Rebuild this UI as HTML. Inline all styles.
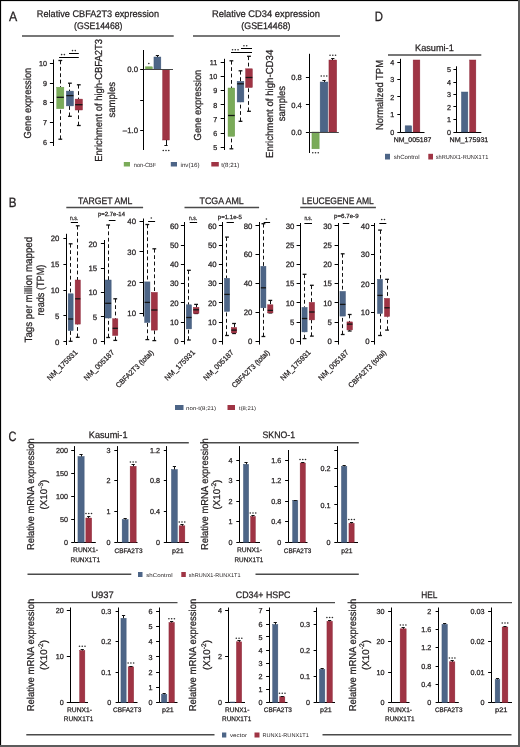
<!DOCTYPE html>
<html><head><meta charset="utf-8"><style>
html,body{margin:0;padding:0;background:#fff;overflow:hidden;}
svg{display:block;will-change:transform;}
text{font-family:"Liberation Sans", sans-serif;text-rendering:geometricPrecision;stroke:#231f20;stroke-width:0.25px;}
</style></head><body>
<svg width="520" height="747" viewBox="0 0 520 747">
<rect width="520" height="747" fill="#fff"/>
<rect x="0" y="0" width="520" height="1.1" fill="#000"/>
<rect x="0" y="0" width="1.1" height="747" fill="#000"/>
<rect x="518" y="0" width="2" height="747" fill="#5c5c5c"/>
<rect x="0" y="745" width="520" height="2" fill="#5c5c5c"/>
<text x="8.9" y="21.1" font-size="13.5" fill="#231f20" textLength="8.2" lengthAdjust="spacingAndGlyphs" style="stroke-width:0.3px">A</text>
<text x="374.8" y="20.8" font-size="13.5" fill="#231f20" textLength="8.2" lengthAdjust="spacingAndGlyphs" style="stroke-width:0.3px">D</text>
<text x="8.7" y="207.2" font-size="13.5" fill="#231f20" textLength="7.7" lengthAdjust="spacingAndGlyphs" style="stroke-width:0.3px">B</text>
<text x="8.5" y="441.3" font-size="13.5" fill="#231f20" textLength="7.9" lengthAdjust="spacingAndGlyphs" style="stroke-width:0.3px">C</text>
<text x="36.8" y="17" font-size="9.6" fill="#231f20" textLength="122.2" lengthAdjust="spacingAndGlyphs">Relative CBFA2T3 expression</text>
<text x="74" y="28.9" font-size="9.6" fill="#231f20" textLength="48.5" lengthAdjust="spacingAndGlyphs">(GSE14468)</text>
<line x1="22" y1="36" x2="173.7" y2="36" stroke="#4a4a4a" stroke-width="1.4"/>
<text x="212" y="17" font-size="9.6" fill="#231f20" textLength="108" lengthAdjust="spacingAndGlyphs">Relative CD34 expression</text>
<text x="241.3" y="28.9" font-size="9.6" fill="#231f20" textLength="49.2" lengthAdjust="spacingAndGlyphs">(GSE14468)</text>
<line x1="193" y1="36" x2="340" y2="36" stroke="#4a4a4a" stroke-width="1.4"/>
<text transform="translate(31.4 103.1) rotate(-90)" font-size="10.2" fill="#231f20" text-anchor="middle" textLength="70.8" lengthAdjust="spacingAndGlyphs">Gene expression</text>
<line x1="53.5" y1="59.5" x2="53.5" y2="146" stroke="#000000" stroke-width="1"/>
<line x1="49.9" y1="63.5" x2="53.5" y2="63.5" stroke="#000000" stroke-width="1"/>
<text x="47" y="65.89" font-size="7.2" fill="#231f20" text-anchor="end">10</text>
<line x1="49.9" y1="83.5" x2="53.5" y2="83.5" stroke="#000000" stroke-width="1"/>
<text x="47" y="85.69" font-size="7.2" fill="#231f20" text-anchor="end">9</text>
<line x1="49.9" y1="102.5" x2="53.5" y2="102.5" stroke="#000000" stroke-width="1"/>
<text x="47" y="105.39" font-size="7.2" fill="#231f20" text-anchor="end">8</text>
<line x1="49.9" y1="122.5" x2="53.5" y2="122.5" stroke="#000000" stroke-width="1"/>
<text x="47" y="125.49" font-size="7.2" fill="#231f20" text-anchor="end">7</text>
<line x1="49.9" y1="142.5" x2="53.5" y2="142.5" stroke="#000000" stroke-width="1"/>
<text x="47" y="145.39" font-size="7.2" fill="#231f20" text-anchor="end">6</text>
<line x1="60.5" y1="60.5" x2="60.5" y2="87.2" stroke="#111" stroke-width="1" stroke-dasharray="3.8,2.6"/>
<line x1="60.5" y1="139.2" x2="60.5" y2="108.7" stroke="#111" stroke-width="1" stroke-dasharray="3.8,2.6"/>
<line x1="58.4" y1="60.5" x2="62.2" y2="60.5" stroke="#111" stroke-width="1.3"/>
<line x1="58.4" y1="139.2" x2="62.2" y2="139.2" stroke="#111" stroke-width="1.3"/>
<rect x="56.75" y="87.2" width="7.1" height="21.5" fill="#7aab59" stroke="#6a9a4a" stroke-width="0.45"/>
<line x1="56.75" y1="97.3" x2="63.85" y2="97.3" stroke="#151515" stroke-width="1.3"/>
<line x1="69.5" y1="83.2" x2="69.5" y2="91.1" stroke="#111" stroke-width="1" stroke-dasharray="3.8,2.6"/>
<line x1="69.5" y1="116.3" x2="69.5" y2="105.9" stroke="#111" stroke-width="1" stroke-dasharray="3.8,2.6"/>
<line x1="68" y1="83.2" x2="71.8" y2="83.2" stroke="#111" stroke-width="1.3"/>
<line x1="68" y1="116.3" x2="71.8" y2="116.3" stroke="#111" stroke-width="1.3"/>
<rect x="66.35" y="91.1" width="7.1" height="14.8" fill="#4d6587" stroke="#3f5676" stroke-width="0.45"/>
<line x1="66.35" y1="95.6" x2="73.45" y2="95.6" stroke="#151515" stroke-width="1.3"/>
<line x1="78.5" y1="84.8" x2="78.5" y2="99.1" stroke="#111" stroke-width="1" stroke-dasharray="3.8,2.6"/>
<line x1="78.5" y1="125.5" x2="78.5" y2="110" stroke="#111" stroke-width="1" stroke-dasharray="3.8,2.6"/>
<line x1="76.9" y1="84.8" x2="80.7" y2="84.8" stroke="#111" stroke-width="1.3"/>
<line x1="76.9" y1="125.5" x2="80.7" y2="125.5" stroke="#111" stroke-width="1.3"/>
<rect x="75.15" y="99.1" width="7.3" height="10.9" fill="#9f3444" stroke="#8c2536" stroke-width="0.45"/>
<line x1="75.15" y1="104.7" x2="82.45" y2="104.7" stroke="#151515" stroke-width="1.3"/>
<line x1="59.1" y1="57.5" x2="78.8" y2="57.5" stroke="#000000" stroke-width="1"/>
<line x1="69" y1="53.5" x2="78.8" y2="53.5" stroke="#000000" stroke-width="1"/>
<circle cx="61.62" cy="54.6" r="0.82" fill="#2e2e2e"/>
<circle cx="64.38" cy="54.6" r="0.82" fill="#2e2e2e"/>
<circle cx="72.53" cy="50.6" r="0.82" fill="#2e2e2e"/>
<circle cx="75.28" cy="50.6" r="0.82" fill="#2e2e2e"/>
<text transform="translate(102.4 100.35) rotate(-90)" font-size="10.2" fill="#231f20" text-anchor="middle" textLength="122.9" lengthAdjust="spacingAndGlyphs">Enrichment of high-CBFA2T3</text>
<text transform="translate(114.9 99.75) rotate(-90)" font-size="10.2" fill="#231f20" text-anchor="middle" textLength="35.5" lengthAdjust="spacingAndGlyphs">samples</text>
<line x1="143.5" y1="50" x2="143.5" y2="150" stroke="#000000" stroke-width="1"/>
<line x1="140.2" y1="69.5" x2="143.8" y2="69.5" stroke="#000000" stroke-width="1"/>
<text x="138" y="72.31" font-size="7.8" fill="#231f20" text-anchor="end">0.0</text>
<line x1="140.2" y1="100.5" x2="143.8" y2="100.5" stroke="#000000" stroke-width="1"/>
<line x1="140.2" y1="130.5" x2="143.8" y2="130.5" stroke="#000000" stroke-width="1"/>
<text x="138" y="133.31" font-size="7.8" fill="#231f20" text-anchor="end">–1.0</text>
<rect x="145.45" y="66.8" width="6.9" height="2.7" fill="#7aab59" stroke="#6a9a4a" stroke-width="0.45"/>
<rect x="153.95" y="57" width="6.9" height="12.5" fill="#4d6587" stroke="#3f5676" stroke-width="0.45"/>
<line x1="157.5" y1="57" x2="157.5" y2="55.2" stroke="#111" stroke-width="1"/>
<line x1="155.8" y1="55.5" x2="159" y2="55.5" stroke="#111" stroke-width="1"/>
<rect x="162.65" y="69.5" width="6.7" height="70.5" fill="#9f3444" stroke="#8c2536" stroke-width="0.45"/>
<line x1="166.5" y1="140" x2="166.5" y2="145.5" stroke="#111" stroke-width="1"/>
<line x1="164.4" y1="145.5" x2="167.6" y2="145.5" stroke="#111" stroke-width="1"/>
<line x1="143.8" y1="69.5" x2="173" y2="69.5" stroke="#444" stroke-width="1"/>
<circle cx="148.8" cy="63.5" r="0.82" fill="#2e2e2e"/>
<circle cx="163.25" cy="150.5" r="0.82" fill="#2e2e2e"/>
<circle cx="166" cy="150.5" r="0.82" fill="#2e2e2e"/>
<circle cx="168.75" cy="150.5" r="0.82" fill="#2e2e2e"/>
<rect x="123.8" y="162" width="6.2" height="4.5" fill="#7aab59"/>
<text x="133.8" y="166.5" font-size="6" fill="#231f20" textLength="22.5" lengthAdjust="spacingAndGlyphs" style="stroke:none">non-CBF</text>
<rect x="170.8" y="162" width="6.2" height="4.5" fill="#4d6587"/>
<text x="180.5" y="166.5" font-size="6" fill="#231f20" textLength="19" lengthAdjust="spacingAndGlyphs" style="stroke:none">inv(16)</text>
<rect x="211.3" y="162" width="7.5" height="4.5" fill="#9f3444"/>
<text x="221.3" y="166.5" font-size="6" fill="#231f20" textLength="18" lengthAdjust="spacingAndGlyphs" style="stroke:none">t(8;21)</text>
<text transform="translate(201.4 105.05) rotate(-90)" font-size="10.2" fill="#231f20" text-anchor="middle" textLength="70.7" lengthAdjust="spacingAndGlyphs">Gene expression</text>
<line x1="224.5" y1="58.8" x2="224.5" y2="150" stroke="#000000" stroke-width="1"/>
<line x1="220.7" y1="62.5" x2="224.3" y2="62.5" stroke="#000000" stroke-width="1"/>
<text x="217.3" y="64.59" font-size="7.2" fill="#231f20" text-anchor="end">11</text>
<line x1="220.7" y1="76.5" x2="224.3" y2="76.5" stroke="#000000" stroke-width="1"/>
<text x="217.3" y="78.89" font-size="7.2" fill="#231f20" text-anchor="end">10</text>
<line x1="220.7" y1="90.5" x2="224.3" y2="90.5" stroke="#000000" stroke-width="1"/>
<text x="217.3" y="93.09" font-size="7.2" fill="#231f20" text-anchor="end">9</text>
<line x1="220.7" y1="104.5" x2="224.3" y2="104.5" stroke="#000000" stroke-width="1"/>
<text x="217.3" y="107.59" font-size="7.2" fill="#231f20" text-anchor="end">8</text>
<line x1="220.7" y1="118.5" x2="224.3" y2="118.5" stroke="#000000" stroke-width="1"/>
<text x="217.3" y="121.59" font-size="7.2" fill="#231f20" text-anchor="end">7</text>
<line x1="220.7" y1="133.5" x2="224.3" y2="133.5" stroke="#000000" stroke-width="1"/>
<text x="217.3" y="135.89" font-size="7.2" fill="#231f20" text-anchor="end">6</text>
<line x1="220.7" y1="147.5" x2="224.3" y2="147.5" stroke="#000000" stroke-width="1"/>
<text x="217.3" y="150.09" font-size="7.2" fill="#231f20" text-anchor="end">5</text>
<line x1="231.5" y1="60.8" x2="231.5" y2="88" stroke="#111" stroke-width="1" stroke-dasharray="3.8,2.6"/>
<line x1="231.5" y1="148.8" x2="231.5" y2="136.3" stroke="#111" stroke-width="1" stroke-dasharray="3.8,2.6"/>
<line x1="229.5" y1="60.8" x2="233.3" y2="60.8" stroke="#111" stroke-width="1.3"/>
<line x1="229.5" y1="148.8" x2="233.3" y2="148.8" stroke="#111" stroke-width="1.3"/>
<rect x="228.05" y="88" width="6.7" height="48.3" fill="#7aab59" stroke="#6a9a4a" stroke-width="0.45"/>
<line x1="228.05" y1="115.5" x2="234.75" y2="115.5" stroke="#151515" stroke-width="1.3"/>
<line x1="240.5" y1="70.8" x2="240.5" y2="81.3" stroke="#111" stroke-width="1" stroke-dasharray="3.8,2.6"/>
<line x1="240.5" y1="121.3" x2="240.5" y2="102" stroke="#111" stroke-width="1" stroke-dasharray="3.8,2.6"/>
<line x1="238.6" y1="70.8" x2="242.4" y2="70.8" stroke="#111" stroke-width="1.3"/>
<line x1="238.6" y1="121.3" x2="242.4" y2="121.3" stroke="#111" stroke-width="1.3"/>
<rect x="237.15" y="81.3" width="6.7" height="20.7" fill="#4d6587" stroke="#3f5676" stroke-width="0.45"/>
<line x1="237.15" y1="83.8" x2="243.85" y2="83.8" stroke="#151515" stroke-width="1.3"/>
<line x1="248.5" y1="56.3" x2="248.5" y2="68.8" stroke="#111" stroke-width="1" stroke-dasharray="3.8,2.6"/>
<line x1="248.5" y1="111.3" x2="248.5" y2="87.5" stroke="#111" stroke-width="1" stroke-dasharray="3.8,2.6"/>
<line x1="247.1" y1="56.3" x2="250.9" y2="56.3" stroke="#111" stroke-width="1.3"/>
<line x1="247.1" y1="111.3" x2="250.9" y2="111.3" stroke="#111" stroke-width="1.3"/>
<rect x="245.65" y="68.8" width="6.7" height="18.7" fill="#9f3444" stroke="#8c2536" stroke-width="0.45"/>
<line x1="245.65" y1="77.5" x2="252.35" y2="77.5" stroke="#151515" stroke-width="1.3"/>
<line x1="231" y1="52.5" x2="252" y2="52.5" stroke="#000000" stroke-width="1"/>
<line x1="241" y1="48.5" x2="252" y2="48.5" stroke="#000000" stroke-width="1"/>
<circle cx="232.55" cy="49.8" r="0.82" fill="#2e2e2e"/>
<circle cx="235.3" cy="49.8" r="0.82" fill="#2e2e2e"/>
<circle cx="238.05" cy="49.8" r="0.82" fill="#2e2e2e"/>
<circle cx="243.93" cy="45.8" r="0.82" fill="#2e2e2e"/>
<circle cx="246.68" cy="45.8" r="0.82" fill="#2e2e2e"/>
<text transform="translate(273.1 103.85) rotate(-90)" font-size="10.2" fill="#231f20" text-anchor="middle" textLength="108.3" lengthAdjust="spacingAndGlyphs">Enrichment of high-CD34</text>
<text transform="translate(284.8 103.6) rotate(-90)" font-size="10.2" fill="#231f20" text-anchor="middle" textLength="35.2" lengthAdjust="spacingAndGlyphs">samples</text>
<line x1="309.5" y1="53.8" x2="309.5" y2="153" stroke="#000000" stroke-width="1"/>
<line x1="305.9" y1="77.5" x2="309.5" y2="77.5" stroke="#000000" stroke-width="1"/>
<text x="301.8" y="80.24" font-size="7.6" fill="#231f20" text-anchor="end">0.8</text>
<line x1="305.9" y1="104.5" x2="309.5" y2="104.5" stroke="#000000" stroke-width="1"/>
<text x="301.8" y="107.74" font-size="7.6" fill="#231f20" text-anchor="end">0.4</text>
<line x1="305.9" y1="132.5" x2="309.5" y2="132.5" stroke="#000000" stroke-width="1"/>
<text x="301.8" y="134.74" font-size="7.6" fill="#231f20" text-anchor="end">0.0</text>
<rect x="311.95" y="132" width="7.2" height="16.8" fill="#7aab59" stroke="#6a9a4a" stroke-width="0.45"/>
<rect x="320.15" y="82" width="7.7" height="50" fill="#4d6587" stroke="#3f5676" stroke-width="0.45"/>
<line x1="324.5" y1="82" x2="324.5" y2="80" stroke="#111" stroke-width="1"/>
<line x1="322.4" y1="80.5" x2="325.6" y2="80.5" stroke="#111" stroke-width="1"/>
<rect x="328.95" y="60" width="7.7" height="72" fill="#9f3444" stroke="#8c2536" stroke-width="0.45"/>
<line x1="332.5" y1="60" x2="332.5" y2="58.3" stroke="#111" stroke-width="1"/>
<line x1="331.2" y1="58.5" x2="334.4" y2="58.5" stroke="#111" stroke-width="1"/>
<line x1="309.5" y1="132.5" x2="338.8" y2="132.5" stroke="#444" stroke-width="1"/>
<circle cx="312.75" cy="152.8" r="0.82" fill="#2e2e2e"/>
<circle cx="315.5" cy="152.8" r="0.82" fill="#2e2e2e"/>
<circle cx="318.25" cy="152.8" r="0.82" fill="#2e2e2e"/>
<circle cx="321.25" cy="76" r="0.82" fill="#2e2e2e"/>
<circle cx="324" cy="76" r="0.82" fill="#2e2e2e"/>
<circle cx="326.75" cy="76" r="0.82" fill="#2e2e2e"/>
<circle cx="330.05" cy="55.3" r="0.82" fill="#2e2e2e"/>
<circle cx="332.8" cy="55.3" r="0.82" fill="#2e2e2e"/>
<circle cx="335.55" cy="55.3" r="0.82" fill="#2e2e2e"/>
<text x="415" y="50.8" font-size="9.4" fill="#231f20" textLength="38.8" lengthAdjust="spacingAndGlyphs">Kasumi-1</text>
<line x1="388" y1="55" x2="481.3" y2="55" stroke="#4a4a4a" stroke-width="1.4"/>
<text transform="translate(382.7 95) rotate(-90)" font-size="10.2" fill="#231f20" text-anchor="middle" textLength="70" lengthAdjust="spacingAndGlyphs">Normalized TPM</text>
<line x1="400.5" y1="58.8" x2="400.5" y2="132" stroke="#000000" stroke-width="1"/>
<line x1="397.3" y1="62.5" x2="400.9" y2="62.5" stroke="#000000" stroke-width="1"/>
<text x="394.2" y="64.59" font-size="7.2" fill="#231f20" text-anchor="end">4</text>
<line x1="397.3" y1="79.5" x2="400.9" y2="79.5" stroke="#000000" stroke-width="1"/>
<text x="394.2" y="82.09" font-size="7.2" fill="#231f20" text-anchor="end">3</text>
<line x1="397.3" y1="96.5" x2="400.9" y2="96.5" stroke="#000000" stroke-width="1"/>
<text x="394.2" y="99.59" font-size="7.2" fill="#231f20" text-anchor="end">2</text>
<line x1="397.3" y1="114.5" x2="400.9" y2="114.5" stroke="#000000" stroke-width="1"/>
<text x="394.2" y="117.09" font-size="7.2" fill="#231f20" text-anchor="end">1</text>
<line x1="397.3" y1="132.5" x2="400.9" y2="132.5" stroke="#000000" stroke-width="1"/>
<text x="394.2" y="134.59" font-size="7.2" fill="#231f20" text-anchor="end">0</text>
<line x1="400.9" y1="132.5" x2="424.5" y2="132.5" stroke="#000000" stroke-width="1"/>
<rect x="405.15" y="125.8" width="6.5" height="6.2" fill="#4d6587" stroke="#3f5676" stroke-width="0.45"/>
<rect x="413.15" y="60" width="6.7" height="72" fill="#9f3444" stroke="#8c2536" stroke-width="0.45"/>
<text x="393.8" y="142.3" font-size="6.8" fill="#231f20" textLength="37.5" lengthAdjust="spacingAndGlyphs">NM_005187</text>
<line x1="456.5" y1="66.3" x2="456.5" y2="132" stroke="#000000" stroke-width="1"/>
<line x1="453.4" y1="69.5" x2="457" y2="69.5" stroke="#000000" stroke-width="1"/>
<text x="451" y="72.09" font-size="7.2" fill="#231f20" text-anchor="end">5</text>
<line x1="453.4" y1="82.5" x2="457" y2="82.5" stroke="#000000" stroke-width="1"/>
<text x="451" y="84.59" font-size="7.2" fill="#231f20" text-anchor="end">4</text>
<line x1="453.4" y1="94.5" x2="457" y2="94.5" stroke="#000000" stroke-width="1"/>
<text x="451" y="97.09" font-size="7.2" fill="#231f20" text-anchor="end">3</text>
<line x1="453.4" y1="106.5" x2="457" y2="106.5" stroke="#000000" stroke-width="1"/>
<text x="451" y="109.59" font-size="7.2" fill="#231f20" text-anchor="end">2</text>
<line x1="453.4" y1="119.5" x2="457" y2="119.5" stroke="#000000" stroke-width="1"/>
<text x="451" y="122.09" font-size="7.2" fill="#231f20" text-anchor="end">1</text>
<line x1="453.4" y1="132.5" x2="457" y2="132.5" stroke="#000000" stroke-width="1"/>
<text x="451" y="134.59" font-size="7.2" fill="#231f20" text-anchor="end">0</text>
<line x1="457" y1="132.5" x2="481.3" y2="132.5" stroke="#000000" stroke-width="1"/>
<rect x="461.45" y="92" width="6.4" height="40" fill="#4d6587" stroke="#3f5676" stroke-width="0.45"/>
<rect x="469.65" y="60" width="6.2" height="72" fill="#9f3444" stroke="#8c2536" stroke-width="0.45"/>
<text x="449.5" y="142.3" font-size="6.8" fill="#231f20" textLength="38.8" lengthAdjust="spacingAndGlyphs">NM_175931</text>
<rect x="385" y="153.8" width="5" height="5.7" fill="#4d6587"/>
<text x="393.8" y="158.8" font-size="6" fill="#231f20" textLength="25.7" lengthAdjust="spacingAndGlyphs" style="stroke:none">shControl</text>
<rect x="428.3" y="153.8" width="4.7" height="5.7" fill="#9f3444"/>
<text x="435.8" y="158.8" font-size="6" fill="#231f20" textLength="52.5" lengthAdjust="spacingAndGlyphs" style="stroke:none">shRUNX1-RUNX1T1</text>
<text x="78" y="203.8" font-size="9.4" fill="#231f20" textLength="54.3" lengthAdjust="spacingAndGlyphs">TARGET AML</text>
<line x1="66.3" y1="207.5" x2="143.1" y2="207.5" stroke="#4a4a4a" stroke-width="1.4"/>
<text x="199.5" y="203.8" font-size="9.4" fill="#231f20" textLength="44.3" lengthAdjust="spacingAndGlyphs">TCGA AML</text>
<line x1="184.5" y1="207.5" x2="259.1" y2="207.5" stroke="#4a4a4a" stroke-width="1.4"/>
<text x="302" y="203.8" font-size="9.4" fill="#231f20" textLength="71.8" lengthAdjust="spacingAndGlyphs">LEUCEGENE AML</text>
<line x1="300.2" y1="207.5" x2="375.9" y2="207.5" stroke="#4a4a4a" stroke-width="1.4"/>
<text transform="translate(31.9 289.65) rotate(-90)" font-size="10.5" fill="#231f20" text-anchor="middle" textLength="105.7" lengthAdjust="spacingAndGlyphs">Tags per million mapped</text>
<text transform="translate(44.3 290.1) rotate(-90)" font-size="10.5" fill="#231f20" text-anchor="middle" textLength="50.8" lengthAdjust="spacingAndGlyphs">reads (TPM)</text>
<line x1="66.5" y1="233.8" x2="66.5" y2="345" stroke="#000000" stroke-width="1"/>
<line x1="63.4" y1="238.5" x2="67" y2="238.5" stroke="#000000" stroke-width="1"/>
<text x="59.4" y="240.81" font-size="7.8" fill="#231f20" text-anchor="end">20</text>
<line x1="63.4" y1="264.5" x2="67" y2="264.5" stroke="#000000" stroke-width="1"/>
<text x="59.4" y="266.81" font-size="7.8" fill="#231f20" text-anchor="end">15</text>
<line x1="63.4" y1="290.5" x2="67" y2="290.5" stroke="#000000" stroke-width="1"/>
<text x="59.4" y="292.81" font-size="7.8" fill="#231f20" text-anchor="end">10</text>
<line x1="63.4" y1="315.5" x2="67" y2="315.5" stroke="#000000" stroke-width="1"/>
<text x="59.4" y="318.61" font-size="7.8" fill="#231f20" text-anchor="end">5</text>
<line x1="63.4" y1="341.5" x2="67" y2="341.5" stroke="#000000" stroke-width="1"/>
<text x="59.4" y="344.61" font-size="7.8" fill="#231f20" text-anchor="end">0</text>
<line x1="70.5" y1="243.8" x2="70.5" y2="293.8" stroke="#111" stroke-width="1" stroke-dasharray="3.8,2.6"/>
<line x1="70.5" y1="341.3" x2="70.5" y2="330.6" stroke="#111" stroke-width="1" stroke-dasharray="3.8,2.6"/>
<line x1="68.75" y1="243.8" x2="72.55" y2="243.8" stroke="#111" stroke-width="1.3"/>
<line x1="68.75" y1="341.3" x2="72.55" y2="341.3" stroke="#111" stroke-width="1.3"/>
<rect x="68.15" y="293.8" width="5" height="36.8" fill="#4d6587" stroke="#3f5676" stroke-width="0.45"/>
<line x1="68.15" y1="319" x2="73.15" y2="319" stroke="#151515" stroke-width="1.3"/>
<line x1="77.5" y1="225.8" x2="77.5" y2="280" stroke="#111" stroke-width="1" stroke-dasharray="3.8,2.6"/>
<line x1="77.5" y1="337.3" x2="77.5" y2="324.1" stroke="#111" stroke-width="1" stroke-dasharray="3.8,2.6"/>
<line x1="75.85" y1="225.8" x2="79.65" y2="225.8" stroke="#111" stroke-width="1.3"/>
<line x1="75.85" y1="337.3" x2="79.65" y2="337.3" stroke="#111" stroke-width="1.3"/>
<rect x="75.15" y="280" width="5.2" height="44.1" fill="#9f3444" stroke="#8c2536" stroke-width="0.45"/>
<line x1="75.15" y1="298.8" x2="80.35" y2="298.8" stroke="#151515" stroke-width="1.3"/>
<line x1="70.8" y1="222.5" x2="78" y2="222.5" stroke="#000000" stroke-width="1"/>
<text x="70" y="220.2" font-size="6" fill="#231f20" textLength="8" lengthAdjust="spacingAndGlyphs">n.s.</text>
<text transform="translate(78 353) rotate(-45)" font-size="7.4" fill="#231f20" text-anchor="end" textLength="39.5" lengthAdjust="spacingAndGlyphs">NM_175931</text>
<line x1="104.5" y1="240" x2="104.5" y2="344.5" stroke="#000000" stroke-width="1"/>
<line x1="100.9" y1="243.5" x2="104.5" y2="243.5" stroke="#000000" stroke-width="1"/>
<text x="97.2" y="246.61" font-size="7.8" fill="#231f20" text-anchor="end">20</text>
<line x1="100.9" y1="268.5" x2="104.5" y2="268.5" stroke="#000000" stroke-width="1"/>
<text x="97.2" y="270.81" font-size="7.8" fill="#231f20" text-anchor="end">15</text>
<line x1="100.9" y1="292.5" x2="104.5" y2="292.5" stroke="#000000" stroke-width="1"/>
<text x="97.2" y="295.31" font-size="7.8" fill="#231f20" text-anchor="end">10</text>
<line x1="100.9" y1="316.5" x2="104.5" y2="316.5" stroke="#000000" stroke-width="1"/>
<text x="97.2" y="319.81" font-size="7.8" fill="#231f20" text-anchor="end">5</text>
<line x1="100.9" y1="341.5" x2="104.5" y2="341.5" stroke="#000000" stroke-width="1"/>
<text x="97.2" y="344.11" font-size="7.8" fill="#231f20" text-anchor="end">0</text>
<line x1="108.5" y1="225" x2="108.5" y2="280" stroke="#111" stroke-width="1" stroke-dasharray="3.8,2.6"/>
<line x1="108.5" y1="337.5" x2="108.5" y2="318" stroke="#111" stroke-width="1" stroke-dasharray="3.8,2.6"/>
<line x1="106.25" y1="225" x2="110.05" y2="225" stroke="#111" stroke-width="1.3"/>
<line x1="106.25" y1="337.5" x2="110.05" y2="337.5" stroke="#111" stroke-width="1.3"/>
<rect x="105.15" y="280" width="6" height="38" fill="#4d6587" stroke="#3f5676" stroke-width="0.45"/>
<line x1="105.15" y1="303.3" x2="111.15" y2="303.3" stroke="#151515" stroke-width="1.3"/>
<line x1="115.5" y1="298.8" x2="115.5" y2="318.8" stroke="#111" stroke-width="1" stroke-dasharray="3.8,2.6"/>
<line x1="115.5" y1="340.4" x2="115.5" y2="335.5" stroke="#111" stroke-width="1" stroke-dasharray="3.8,2.6"/>
<line x1="113.35" y1="298.8" x2="117.15" y2="298.8" stroke="#111" stroke-width="1.3"/>
<line x1="113.35" y1="340.4" x2="117.15" y2="340.4" stroke="#111" stroke-width="1.3"/>
<rect x="112.65" y="318.8" width="5.2" height="16.7" fill="#9f3444" stroke="#8c2536" stroke-width="0.45"/>
<line x1="112.65" y1="328.3" x2="117.85" y2="328.3" stroke="#151515" stroke-width="1.3"/>
<line x1="108.8" y1="220.5" x2="115.5" y2="220.5" stroke="#000000" stroke-width="1"/>
<text x="98" y="216" font-size="6" fill="#231f20" textLength="27" lengthAdjust="spacingAndGlyphs">p=2.7e-14</text>
<text transform="translate(114.8 353) rotate(-45)" font-size="7.4" fill="#231f20" text-anchor="end" textLength="39.5" lengthAdjust="spacingAndGlyphs">NM_005187</text>
<line x1="143.5" y1="218.5" x2="143.5" y2="316.5" stroke="#000000" stroke-width="1"/>
<line x1="139.5" y1="221.5" x2="143.1" y2="221.5" stroke="#000000" stroke-width="1"/>
<text x="136" y="223.91" font-size="7.8" fill="#231f20" text-anchor="end">40</text>
<line x1="139.5" y1="251.5" x2="143.1" y2="251.5" stroke="#000000" stroke-width="1"/>
<text x="136" y="254.61" font-size="7.8" fill="#231f20" text-anchor="end">30</text>
<line x1="139.5" y1="282.5" x2="143.1" y2="282.5" stroke="#000000" stroke-width="1"/>
<text x="136" y="285.51" font-size="7.8" fill="#231f20" text-anchor="end">20</text>
<line x1="139.5" y1="313.5" x2="143.1" y2="313.5" stroke="#000000" stroke-width="1"/>
<text x="136" y="316.31" font-size="7.8" fill="#231f20" text-anchor="end">10</text>
<line x1="147.5" y1="224.5" x2="147.5" y2="281.9" stroke="#111" stroke-width="1" stroke-dasharray="3.8,2.6"/>
<line x1="147.5" y1="339.6" x2="147.5" y2="322.5" stroke="#111" stroke-width="1" stroke-dasharray="3.8,2.6"/>
<line x1="145.4" y1="224.5" x2="149.2" y2="224.5" stroke="#111" stroke-width="1.3"/>
<line x1="145.4" y1="339.6" x2="149.2" y2="339.6" stroke="#111" stroke-width="1.3"/>
<rect x="144.65" y="281.9" width="5.3" height="40.6" fill="#4d6587" stroke="#3f5676" stroke-width="0.45"/>
<line x1="144.65" y1="302.4" x2="149.95" y2="302.4" stroke="#151515" stroke-width="1.3"/>
<line x1="154.5" y1="248.8" x2="154.5" y2="292.4" stroke="#111" stroke-width="1" stroke-dasharray="3.8,2.6"/>
<line x1="154.5" y1="340.6" x2="154.5" y2="330.1" stroke="#111" stroke-width="1" stroke-dasharray="3.8,2.6"/>
<line x1="152.4" y1="248.8" x2="156.2" y2="248.8" stroke="#111" stroke-width="1.3"/>
<line x1="152.4" y1="340.6" x2="156.2" y2="340.6" stroke="#111" stroke-width="1.3"/>
<rect x="151.25" y="292.4" width="6.1" height="37.7" fill="#9f3444" stroke="#8c2536" stroke-width="0.45"/>
<line x1="151.25" y1="310" x2="157.35" y2="310" stroke="#151515" stroke-width="1.3"/>
<line x1="148.1" y1="221.5" x2="155.1" y2="221.5" stroke="#000000" stroke-width="1"/>
<circle cx="151.3" cy="218" r="0.82" fill="#2e2e2e"/>
<text transform="translate(154.1 353) rotate(-45)" font-size="7.4" fill="#231f20" text-anchor="end" textLength="50" lengthAdjust="spacingAndGlyphs">CBFA2T3 (total)</text>
<line x1="184.5" y1="222" x2="184.5" y2="344.4" stroke="#000000" stroke-width="1"/>
<line x1="180.9" y1="225.5" x2="184.5" y2="225.5" stroke="#000000" stroke-width="1"/>
<text x="178.6" y="228.51" font-size="7.8" fill="#231f20" text-anchor="end">60</text>
<line x1="180.9" y1="245.5" x2="184.5" y2="245.5" stroke="#000000" stroke-width="1"/>
<text x="178.6" y="248.01" font-size="7.8" fill="#231f20" text-anchor="end">50</text>
<line x1="180.9" y1="264.5" x2="184.5" y2="264.5" stroke="#000000" stroke-width="1"/>
<text x="178.6" y="267.11" font-size="7.8" fill="#231f20" text-anchor="end">40</text>
<line x1="180.9" y1="283.5" x2="184.5" y2="283.5" stroke="#000000" stroke-width="1"/>
<text x="178.6" y="286.11" font-size="7.8" fill="#231f20" text-anchor="end">30</text>
<line x1="180.9" y1="302.5" x2="184.5" y2="302.5" stroke="#000000" stroke-width="1"/>
<text x="178.6" y="305.61" font-size="7.8" fill="#231f20" text-anchor="end">20</text>
<line x1="180.9" y1="322.5" x2="184.5" y2="322.5" stroke="#000000" stroke-width="1"/>
<text x="178.6" y="324.91" font-size="7.8" fill="#231f20" text-anchor="end">10</text>
<line x1="180.9" y1="341.5" x2="184.5" y2="341.5" stroke="#000000" stroke-width="1"/>
<text x="178.6" y="344.41" font-size="7.8" fill="#231f20" text-anchor="end">0</text>
<line x1="188.5" y1="270.3" x2="188.5" y2="304.8" stroke="#111" stroke-width="1" stroke-dasharray="3.8,2.6"/>
<line x1="188.5" y1="340" x2="188.5" y2="328.9" stroke="#111" stroke-width="1" stroke-dasharray="3.8,2.6"/>
<line x1="187" y1="270.3" x2="190.8" y2="270.3" stroke="#111" stroke-width="1.3"/>
<line x1="187" y1="340" x2="190.8" y2="340" stroke="#111" stroke-width="1.3"/>
<rect x="186.25" y="304.8" width="5.3" height="24.1" fill="#4d6587" stroke="#3f5676" stroke-width="0.45"/>
<line x1="186.25" y1="317.5" x2="191.55" y2="317.5" stroke="#151515" stroke-width="1.3"/>
<line x1="196.5" y1="304.4" x2="196.5" y2="307.4" stroke="#111" stroke-width="1" stroke-dasharray="3.8,2.6"/>
<line x1="196.5" y1="313.5" x2="196.5" y2="313.5" stroke="#111" stroke-width="1" stroke-dasharray="3.8,2.6"/>
<line x1="194.2" y1="304.4" x2="198" y2="304.4" stroke="#111" stroke-width="1.3"/>
<line x1="194.2" y1="313.5" x2="198" y2="313.5" stroke="#111" stroke-width="1.3"/>
<rect x="193.25" y="307.4" width="5.7" height="6.1" fill="#9f3444" stroke="#8c2536" stroke-width="0.45"/>
<line x1="193.25" y1="309.8" x2="198.95" y2="309.8" stroke="#151515" stroke-width="1.3"/>
<line x1="189.7" y1="222.5" x2="197.1" y2="222.5" stroke="#000000" stroke-width="1"/>
<text x="189.1" y="219.8" font-size="6" fill="#231f20" textLength="8" lengthAdjust="spacingAndGlyphs">n.s.</text>
<text transform="translate(195.5 353) rotate(-45)" font-size="7.4" fill="#231f20" text-anchor="end" textLength="39.5" lengthAdjust="spacingAndGlyphs">NM_175931</text>
<line x1="222.5" y1="222" x2="222.5" y2="344.6" stroke="#000000" stroke-width="1"/>
<line x1="218.9" y1="225.5" x2="222.5" y2="225.5" stroke="#000000" stroke-width="1"/>
<text x="216.6" y="228.51" font-size="7.8" fill="#231f20" text-anchor="end">60</text>
<line x1="218.9" y1="245.5" x2="222.5" y2="245.5" stroke="#000000" stroke-width="1"/>
<text x="216.6" y="248.01" font-size="7.8" fill="#231f20" text-anchor="end">50</text>
<line x1="218.9" y1="264.5" x2="222.5" y2="264.5" stroke="#000000" stroke-width="1"/>
<text x="216.6" y="267.11" font-size="7.8" fill="#231f20" text-anchor="end">40</text>
<line x1="218.9" y1="283.5" x2="222.5" y2="283.5" stroke="#000000" stroke-width="1"/>
<text x="216.6" y="286.11" font-size="7.8" fill="#231f20" text-anchor="end">30</text>
<line x1="218.9" y1="302.5" x2="222.5" y2="302.5" stroke="#000000" stroke-width="1"/>
<text x="216.6" y="305.61" font-size="7.8" fill="#231f20" text-anchor="end">20</text>
<line x1="218.9" y1="322.5" x2="222.5" y2="322.5" stroke="#000000" stroke-width="1"/>
<text x="216.6" y="324.91" font-size="7.8" fill="#231f20" text-anchor="end">10</text>
<line x1="218.9" y1="341.5" x2="222.5" y2="341.5" stroke="#000000" stroke-width="1"/>
<text x="216.6" y="344.41" font-size="7.8" fill="#231f20" text-anchor="end">0</text>
<line x1="226.5" y1="237.1" x2="226.5" y2="278.3" stroke="#111" stroke-width="1" stroke-dasharray="3.8,2.6"/>
<line x1="226.5" y1="335.5" x2="226.5" y2="311.4" stroke="#111" stroke-width="1" stroke-dasharray="3.8,2.6"/>
<line x1="225.1" y1="237.1" x2="228.9" y2="237.1" stroke="#111" stroke-width="1.3"/>
<line x1="225.1" y1="335.5" x2="228.9" y2="335.5" stroke="#111" stroke-width="1.3"/>
<rect x="224.35" y="278.3" width="5.3" height="33.1" fill="#4d6587" stroke="#3f5676" stroke-width="0.45"/>
<line x1="224.35" y1="294.4" x2="229.65" y2="294.4" stroke="#151515" stroke-width="1.3"/>
<line x1="234.5" y1="323.5" x2="234.5" y2="327.5" stroke="#111" stroke-width="1" stroke-dasharray="3.8,2.6"/>
<line x1="234.5" y1="333.5" x2="234.5" y2="332.9" stroke="#111" stroke-width="1" stroke-dasharray="3.8,2.6"/>
<line x1="232.15" y1="323.5" x2="235.95" y2="323.5" stroke="#111" stroke-width="1.3"/>
<line x1="232.15" y1="333.5" x2="235.95" y2="333.5" stroke="#111" stroke-width="1.3"/>
<rect x="231.35" y="327.5" width="5.4" height="5.4" fill="#9f3444" stroke="#8c2536" stroke-width="0.45"/>
<line x1="231.35" y1="330.1" x2="236.75" y2="330.1" stroke="#151515" stroke-width="1.3"/>
<line x1="226.6" y1="222.5" x2="233.9" y2="222.5" stroke="#000000" stroke-width="1"/>
<text x="217.8" y="218.6" font-size="6" fill="#231f20" textLength="24.2" lengthAdjust="spacingAndGlyphs">p=1.1e-5</text>
<text transform="translate(234.2 353) rotate(-45)" font-size="7.4" fill="#231f20" text-anchor="end" textLength="39.5" lengthAdjust="spacingAndGlyphs">NM_005187</text>
<line x1="259.5" y1="222" x2="259.5" y2="344.6" stroke="#000000" stroke-width="1"/>
<line x1="255.5" y1="225.5" x2="259.1" y2="225.5" stroke="#000000" stroke-width="1"/>
<text x="252.4" y="228.51" font-size="7.8" fill="#231f20" text-anchor="end">80</text>
<line x1="255.5" y1="254.5" x2="259.1" y2="254.5" stroke="#000000" stroke-width="1"/>
<text x="252.4" y="257.41" font-size="7.8" fill="#231f20" text-anchor="end">60</text>
<line x1="255.5" y1="283.5" x2="259.1" y2="283.5" stroke="#000000" stroke-width="1"/>
<text x="252.4" y="286.11" font-size="7.8" fill="#231f20" text-anchor="end">40</text>
<line x1="255.5" y1="312.5" x2="259.1" y2="312.5" stroke="#000000" stroke-width="1"/>
<text x="252.4" y="315.21" font-size="7.8" fill="#231f20" text-anchor="end">20</text>
<line x1="255.5" y1="341.5" x2="259.1" y2="341.5" stroke="#000000" stroke-width="1"/>
<text x="252.4" y="344.41" font-size="7.8" fill="#231f20" text-anchor="end">0</text>
<line x1="263.5" y1="223.7" x2="263.5" y2="266.3" stroke="#111" stroke-width="1" stroke-dasharray="3.8,2.6"/>
<line x1="263.5" y1="336.5" x2="263.5" y2="307.8" stroke="#111" stroke-width="1" stroke-dasharray="3.8,2.6"/>
<line x1="261.5" y1="223.7" x2="265.3" y2="223.7" stroke="#111" stroke-width="1.3"/>
<line x1="261.5" y1="336.5" x2="265.3" y2="336.5" stroke="#111" stroke-width="1.3"/>
<rect x="260.85" y="266.3" width="5.1" height="41.5" fill="#4d6587" stroke="#3f5676" stroke-width="0.45"/>
<line x1="260.85" y1="287.8" x2="265.95" y2="287.8" stroke="#151515" stroke-width="1.3"/>
<line x1="270.5" y1="300.4" x2="270.5" y2="304.8" stroke="#111" stroke-width="1" stroke-dasharray="3.8,2.6"/>
<line x1="270.5" y1="312.9" x2="270.5" y2="312.9" stroke="#111" stroke-width="1" stroke-dasharray="3.8,2.6"/>
<line x1="268.4" y1="300.4" x2="272.2" y2="300.4" stroke="#111" stroke-width="1.3"/>
<line x1="268.4" y1="312.9" x2="272.2" y2="312.9" stroke="#111" stroke-width="1.3"/>
<rect x="267.65" y="304.8" width="5.3" height="8.1" fill="#9f3444" stroke="#8c2536" stroke-width="0.45"/>
<line x1="267.65" y1="310.4" x2="272.95" y2="310.4" stroke="#151515" stroke-width="1.3"/>
<line x1="263.7" y1="222.5" x2="270.1" y2="222.5" stroke="#000000" stroke-width="1"/>
<circle cx="266.4" cy="219" r="0.82" fill="#2e2e2e"/>
<text transform="translate(270.1 353) rotate(-45)" font-size="7.4" fill="#231f20" text-anchor="end" textLength="50" lengthAdjust="spacingAndGlyphs">CBFA2T3 (total)</text>
<line x1="300.5" y1="223" x2="300.5" y2="344.6" stroke="#000000" stroke-width="1"/>
<line x1="296.6" y1="225.5" x2="300.2" y2="225.5" stroke="#000000" stroke-width="1"/>
<text x="294.4" y="228.51" font-size="7.8" fill="#231f20" text-anchor="end">30</text>
<line x1="296.6" y1="245.5" x2="300.2" y2="245.5" stroke="#000000" stroke-width="1"/>
<text x="294.4" y="248.01" font-size="7.8" fill="#231f20" text-anchor="end">25</text>
<line x1="296.6" y1="264.5" x2="300.2" y2="264.5" stroke="#000000" stroke-width="1"/>
<text x="294.4" y="267.11" font-size="7.8" fill="#231f20" text-anchor="end">20</text>
<line x1="296.6" y1="283.5" x2="300.2" y2="283.5" stroke="#000000" stroke-width="1"/>
<text x="294.4" y="286.11" font-size="7.8" fill="#231f20" text-anchor="end">15</text>
<line x1="296.6" y1="302.5" x2="300.2" y2="302.5" stroke="#000000" stroke-width="1"/>
<text x="294.4" y="305.61" font-size="7.8" fill="#231f20" text-anchor="end">10</text>
<line x1="296.6" y1="322.5" x2="300.2" y2="322.5" stroke="#000000" stroke-width="1"/>
<text x="294.4" y="324.91" font-size="7.8" fill="#231f20" text-anchor="end">5</text>
<line x1="296.6" y1="341.5" x2="300.2" y2="341.5" stroke="#000000" stroke-width="1"/>
<text x="294.4" y="344.41" font-size="7.8" fill="#231f20" text-anchor="end">0</text>
<line x1="304.5" y1="274.3" x2="304.5" y2="307.4" stroke="#111" stroke-width="1" stroke-dasharray="3.8,2.6"/>
<line x1="304.5" y1="338.6" x2="304.5" y2="331.9" stroke="#111" stroke-width="1" stroke-dasharray="3.8,2.6"/>
<line x1="302.65" y1="274.3" x2="306.45" y2="274.3" stroke="#111" stroke-width="1.3"/>
<line x1="302.65" y1="338.6" x2="306.45" y2="338.6" stroke="#111" stroke-width="1.3"/>
<rect x="301.95" y="307.4" width="5.2" height="24.5" fill="#4d6587" stroke="#3f5676" stroke-width="0.45"/>
<line x1="301.95" y1="318.5" x2="307.15" y2="318.5" stroke="#151515" stroke-width="1.3"/>
<line x1="311.5" y1="285.3" x2="311.5" y2="302.4" stroke="#111" stroke-width="1" stroke-dasharray="3.8,2.6"/>
<line x1="311.5" y1="336.1" x2="311.5" y2="319.9" stroke="#111" stroke-width="1" stroke-dasharray="3.8,2.6"/>
<line x1="309.95" y1="285.3" x2="313.75" y2="285.3" stroke="#111" stroke-width="1.3"/>
<line x1="309.95" y1="336.1" x2="313.75" y2="336.1" stroke="#111" stroke-width="1.3"/>
<rect x="309.15" y="302.4" width="5.4" height="17.5" fill="#9f3444" stroke="#8c2536" stroke-width="0.45"/>
<line x1="309.15" y1="312" x2="314.55" y2="312" stroke="#151515" stroke-width="1.3"/>
<line x1="304.4" y1="223.5" x2="312" y2="223.5" stroke="#000000" stroke-width="1"/>
<text x="304.4" y="220.2" font-size="6" fill="#231f20" textLength="7.6" lengthAdjust="spacingAndGlyphs">n.s.</text>
<text transform="translate(311.2 353) rotate(-45)" font-size="7.4" fill="#231f20" text-anchor="end" textLength="39.5" lengthAdjust="spacingAndGlyphs">NM_175931</text>
<line x1="338.5" y1="223" x2="338.5" y2="344.6" stroke="#000000" stroke-width="1"/>
<line x1="334.6" y1="225.5" x2="338.2" y2="225.5" stroke="#000000" stroke-width="1"/>
<text x="331.9" y="228.51" font-size="7.8" fill="#231f20" text-anchor="end">30</text>
<line x1="334.6" y1="245.5" x2="338.2" y2="245.5" stroke="#000000" stroke-width="1"/>
<text x="331.9" y="248.01" font-size="7.8" fill="#231f20" text-anchor="end">25</text>
<line x1="334.6" y1="264.5" x2="338.2" y2="264.5" stroke="#000000" stroke-width="1"/>
<text x="331.9" y="267.11" font-size="7.8" fill="#231f20" text-anchor="end">20</text>
<line x1="334.6" y1="283.5" x2="338.2" y2="283.5" stroke="#000000" stroke-width="1"/>
<text x="331.9" y="286.11" font-size="7.8" fill="#231f20" text-anchor="end">15</text>
<line x1="334.6" y1="302.5" x2="338.2" y2="302.5" stroke="#000000" stroke-width="1"/>
<text x="331.9" y="305.61" font-size="7.8" fill="#231f20" text-anchor="end">10</text>
<line x1="334.6" y1="322.5" x2="338.2" y2="322.5" stroke="#000000" stroke-width="1"/>
<text x="331.9" y="324.91" font-size="7.8" fill="#231f20" text-anchor="end">5</text>
<line x1="334.6" y1="341.5" x2="338.2" y2="341.5" stroke="#000000" stroke-width="1"/>
<text x="331.9" y="344.41" font-size="7.8" fill="#231f20" text-anchor="end">0</text>
<line x1="342.5" y1="253.8" x2="342.5" y2="291.4" stroke="#111" stroke-width="1" stroke-dasharray="3.8,2.6"/>
<line x1="342.5" y1="334.5" x2="342.5" y2="316.1" stroke="#111" stroke-width="1" stroke-dasharray="3.8,2.6"/>
<line x1="340.8" y1="253.8" x2="344.6" y2="253.8" stroke="#111" stroke-width="1.3"/>
<line x1="340.8" y1="334.5" x2="344.6" y2="334.5" stroke="#111" stroke-width="1.3"/>
<rect x="339.95" y="291.4" width="5.5" height="24.7" fill="#4d6587" stroke="#3f5676" stroke-width="0.45"/>
<line x1="339.95" y1="304.4" x2="345.45" y2="304.4" stroke="#151515" stroke-width="1.3"/>
<line x1="349.5" y1="314.5" x2="349.5" y2="321.9" stroke="#111" stroke-width="1" stroke-dasharray="3.8,2.6"/>
<line x1="349.5" y1="331" x2="349.5" y2="329.9" stroke="#111" stroke-width="1" stroke-dasharray="3.8,2.6"/>
<line x1="347.8" y1="314.5" x2="351.6" y2="314.5" stroke="#111" stroke-width="1.3"/>
<line x1="347.8" y1="331" x2="351.6" y2="331" stroke="#111" stroke-width="1.3"/>
<rect x="346.95" y="321.9" width="5.5" height="8" fill="#9f3444" stroke="#8c2536" stroke-width="0.45"/>
<line x1="346.95" y1="324.1" x2="352.45" y2="324.1" stroke="#151515" stroke-width="1.3"/>
<line x1="342.8" y1="223.5" x2="349.2" y2="223.5" stroke="#000000" stroke-width="1"/>
<text x="334.1" y="217.6" font-size="6" fill="#231f20" textLength="24.5" lengthAdjust="spacingAndGlyphs">p=6.7e-9</text>
<text transform="translate(349.2 353) rotate(-45)" font-size="7.4" fill="#231f20" text-anchor="end" textLength="39.5" lengthAdjust="spacingAndGlyphs">NM_005187</text>
<line x1="374.5" y1="223" x2="374.5" y2="344.6" stroke="#000000" stroke-width="1"/>
<line x1="371" y1="225.5" x2="374.6" y2="225.5" stroke="#000000" stroke-width="1"/>
<text x="369.5" y="228.51" font-size="7.8" fill="#231f20" text-anchor="end">40</text>
<line x1="371" y1="254.5" x2="374.6" y2="254.5" stroke="#000000" stroke-width="1"/>
<text x="369.5" y="257.41" font-size="7.8" fill="#231f20" text-anchor="end">30</text>
<line x1="371" y1="283.5" x2="374.6" y2="283.5" stroke="#000000" stroke-width="1"/>
<text x="369.5" y="286.51" font-size="7.8" fill="#231f20" text-anchor="end">20</text>
<line x1="371" y1="312.5" x2="374.6" y2="312.5" stroke="#000000" stroke-width="1"/>
<text x="369.5" y="315.21" font-size="7.8" fill="#231f20" text-anchor="end">10</text>
<line x1="371" y1="341.5" x2="374.6" y2="341.5" stroke="#000000" stroke-width="1"/>
<text x="369.5" y="344.41" font-size="7.8" fill="#231f20" text-anchor="end">0</text>
<line x1="380.5" y1="230.1" x2="380.5" y2="279.3" stroke="#111" stroke-width="1" stroke-dasharray="3.8,2.6"/>
<line x1="380.5" y1="335.5" x2="380.5" y2="313.5" stroke="#111" stroke-width="1" stroke-dasharray="3.8,2.6"/>
<line x1="378.1" y1="230.1" x2="381.9" y2="230.1" stroke="#111" stroke-width="1.3"/>
<line x1="378.1" y1="335.5" x2="381.9" y2="335.5" stroke="#111" stroke-width="1.3"/>
<rect x="377.45" y="279.3" width="5.1" height="34.2" fill="#4d6587" stroke="#3f5676" stroke-width="0.45"/>
<line x1="377.45" y1="295.4" x2="382.55" y2="295.4" stroke="#151515" stroke-width="1.3"/>
<line x1="387.5" y1="279.3" x2="387.5" y2="298.4" stroke="#111" stroke-width="1" stroke-dasharray="3.8,2.6"/>
<line x1="387.5" y1="330.1" x2="387.5" y2="316.5" stroke="#111" stroke-width="1" stroke-dasharray="3.8,2.6"/>
<line x1="385.15" y1="279.3" x2="388.95" y2="279.3" stroke="#111" stroke-width="1.3"/>
<line x1="385.15" y1="330.1" x2="388.95" y2="330.1" stroke="#111" stroke-width="1.3"/>
<rect x="384.45" y="298.4" width="5.2" height="18.1" fill="#9f3444" stroke="#8c2536" stroke-width="0.45"/>
<line x1="384.45" y1="307.8" x2="389.65" y2="307.8" stroke="#151515" stroke-width="1.3"/>
<line x1="379.3" y1="223.5" x2="386.3" y2="223.5" stroke="#000000" stroke-width="1"/>
<circle cx="381.73" cy="219.5" r="0.82" fill="#2e2e2e"/>
<circle cx="384.48" cy="219.5" r="0.82" fill="#2e2e2e"/>
<text transform="translate(386.7 353) rotate(-45)" font-size="7.4" fill="#231f20" text-anchor="end" textLength="50" lengthAdjust="spacingAndGlyphs">CBFA2T3 (total)</text>
<rect x="175" y="405" width="8.5" height="5" fill="#4d6587"/>
<text x="186" y="409.6" font-size="5.4" fill="#231f20" textLength="30" lengthAdjust="spacingAndGlyphs" style="stroke:none">non-t(8;21)</text>
<rect x="227.5" y="405" width="7.5" height="5" fill="#9f3444"/>
<text x="239" y="409.6" font-size="5.4" fill="#231f20" textLength="17" lengthAdjust="spacingAndGlyphs" style="stroke:none">t(8;21)</text>
<text x="88.8" y="438.2" font-size="9.4" fill="#231f20" textLength="38.7" lengthAdjust="spacingAndGlyphs">Kasumi-1</text>
<line x1="27.3" y1="442.7" x2="188.8" y2="442.7" stroke="#4a4a4a" stroke-width="1.4"/>
<text transform="translate(34.4 494.25) rotate(-90)" font-size="10" fill="#231f20" text-anchor="middle" textLength="111.7" lengthAdjust="spacingAndGlyphs">Relative mRNA expression</text>
<text transform="translate(46.8 494.6) rotate(-90)" font-size="9.8" fill="#231f20" text-anchor="middle">(X10<tspan font-size="6.6" dy="-4.2">-3</tspan><tspan dy="4.2">)</tspan></text>
<line x1="74.5" y1="446.1" x2="74.5" y2="542.3" stroke="#000000" stroke-width="1"/>
<line x1="71.2" y1="450.5" x2="74.4" y2="450.5" stroke="#000000" stroke-width="1"/>
<text x="68" y="452.99" font-size="7.2" fill="#231f20" text-anchor="end">200</text>
<line x1="71.2" y1="473.5" x2="74.4" y2="473.5" stroke="#000000" stroke-width="1"/>
<text x="68" y="475.69" font-size="7.2" fill="#231f20" text-anchor="end">150</text>
<line x1="71.2" y1="496.5" x2="74.4" y2="496.5" stroke="#000000" stroke-width="1"/>
<text x="68" y="498.59" font-size="7.2" fill="#231f20" text-anchor="end">100</text>
<line x1="71.2" y1="519.5" x2="74.4" y2="519.5" stroke="#000000" stroke-width="1"/>
<text x="68" y="521.79" font-size="7.2" fill="#231f20" text-anchor="end">50</text>
<line x1="71.2" y1="542.5" x2="74.4" y2="542.5" stroke="#000000" stroke-width="1"/>
<text x="68" y="544.89" font-size="7.2" fill="#231f20" text-anchor="end">0</text>
<line x1="74.4" y1="542.5" x2="95.8" y2="542.5" stroke="#000000" stroke-width="1"/>
<rect x="77.95" y="456.5" width="6.2" height="85.8" fill="#4d6587" stroke="#3f5676" stroke-width="0.45"/>
<line x1="81.5" y1="456.5" x2="81.5" y2="454.3" stroke="#111" stroke-width="1"/>
<line x1="79.45" y1="454.5" x2="82.65" y2="454.5" stroke="#111" stroke-width="1"/>
<rect x="85.85" y="518" width="5.8" height="24.3" fill="#9f3444" stroke="#8c2536" stroke-width="0.45"/>
<line x1="88.5" y1="518" x2="88.5" y2="516.8" stroke="#111" stroke-width="1"/>
<line x1="87.15" y1="516.5" x2="90.35" y2="516.5" stroke="#111" stroke-width="1"/>
<circle cx="86" cy="513.5" r="0.82" fill="#2e2e2e"/>
<circle cx="88.75" cy="513.5" r="0.82" fill="#2e2e2e"/>
<circle cx="91.5" cy="513.5" r="0.82" fill="#2e2e2e"/>
<text x="73.1" y="552.3" font-size="6.6" fill="#231f20" textLength="24.8" lengthAdjust="spacingAndGlyphs">RUNX1-</text>
<text x="70.5" y="561.5" font-size="6.6" fill="#231f20" textLength="29.5" lengthAdjust="spacingAndGlyphs">RUNX1T1</text>
<line x1="117.5" y1="446.1" x2="117.5" y2="542.3" stroke="#000000" stroke-width="1"/>
<line x1="114.3" y1="450.5" x2="117.5" y2="450.5" stroke="#000000" stroke-width="1"/>
<text x="110.4" y="452.59" font-size="7.2" fill="#231f20" text-anchor="end">3</text>
<line x1="114.3" y1="480.5" x2="117.5" y2="480.5" stroke="#000000" stroke-width="1"/>
<text x="110.4" y="483.39" font-size="7.2" fill="#231f20" text-anchor="end">2</text>
<line x1="114.3" y1="511.5" x2="117.5" y2="511.5" stroke="#000000" stroke-width="1"/>
<text x="110.4" y="514.09" font-size="7.2" fill="#231f20" text-anchor="end">1</text>
<line x1="114.3" y1="542.5" x2="117.5" y2="542.5" stroke="#000000" stroke-width="1"/>
<text x="110.4" y="544.89" font-size="7.2" fill="#231f20" text-anchor="end">0</text>
<line x1="117.5" y1="542.5" x2="137.5" y2="542.5" stroke="#000000" stroke-width="1"/>
<rect x="122.15" y="519.5" width="6" height="22.8" fill="#4d6587" stroke="#3f5676" stroke-width="0.45"/>
<line x1="125.5" y1="519.5" x2="125.5" y2="519" stroke="#111" stroke-width="1"/>
<line x1="123.55" y1="518.5" x2="126.75" y2="518.5" stroke="#111" stroke-width="1"/>
<rect x="130.15" y="466.3" width="6" height="76" fill="#9f3444" stroke="#8c2536" stroke-width="0.45"/>
<line x1="133.5" y1="466.3" x2="133.5" y2="465" stroke="#111" stroke-width="1"/>
<line x1="131.55" y1="464.5" x2="134.75" y2="464.5" stroke="#111" stroke-width="1"/>
<circle cx="130.4" cy="462" r="0.82" fill="#2e2e2e"/>
<circle cx="133.15" cy="462" r="0.82" fill="#2e2e2e"/>
<circle cx="135.9" cy="462" r="0.82" fill="#2e2e2e"/>
<text x="114.5" y="552.5" font-size="6.6" fill="#231f20" textLength="28" lengthAdjust="spacingAndGlyphs">CBFA2T3</text>
<line x1="166.5" y1="446.1" x2="166.5" y2="542.3" stroke="#000000" stroke-width="1"/>
<line x1="163.8" y1="450.5" x2="167" y2="450.5" stroke="#000000" stroke-width="1"/>
<text x="160" y="452.59" font-size="7.2" fill="#231f20" text-anchor="end">1.2</text>
<line x1="163.8" y1="480.5" x2="167" y2="480.5" stroke="#000000" stroke-width="1"/>
<text x="160" y="483.39" font-size="7.2" fill="#231f20" text-anchor="end">0.8</text>
<line x1="163.8" y1="511.5" x2="167" y2="511.5" stroke="#000000" stroke-width="1"/>
<text x="160" y="514.09" font-size="7.2" fill="#231f20" text-anchor="end">0.4</text>
<line x1="163.8" y1="542.5" x2="167" y2="542.5" stroke="#000000" stroke-width="1"/>
<text x="160" y="544.89" font-size="7.2" fill="#231f20" text-anchor="end">0</text>
<line x1="167" y1="542.5" x2="188.8" y2="542.5" stroke="#000000" stroke-width="1"/>
<rect x="171.45" y="469.5" width="5.9" height="72.8" fill="#4d6587" stroke="#3f5676" stroke-width="0.45"/>
<line x1="174.5" y1="469.5" x2="174.5" y2="467" stroke="#111" stroke-width="1"/>
<line x1="172.8" y1="466.5" x2="176" y2="466.5" stroke="#111" stroke-width="1"/>
<rect x="179.15" y="525.8" width="5.7" height="16.5" fill="#9f3444" stroke="#8c2536" stroke-width="0.45"/>
<line x1="182.5" y1="525.8" x2="182.5" y2="524.5" stroke="#111" stroke-width="1"/>
<line x1="180.4" y1="524.5" x2="183.6" y2="524.5" stroke="#111" stroke-width="1"/>
<circle cx="179.25" cy="522" r="0.82" fill="#2e2e2e"/>
<circle cx="182" cy="522" r="0.82" fill="#2e2e2e"/>
<circle cx="184.75" cy="522" r="0.82" fill="#2e2e2e"/>
<text x="172" y="552.5" font-size="6.6" fill="#231f20" textLength="11.8" lengthAdjust="spacingAndGlyphs">p21</text>
<line x1="27.5" y1="574.3" x2="131.3" y2="574.3" stroke="#4a4a4a" stroke-width="1.4"/>
<rect x="138" y="572" width="4.5" height="5" fill="#4d6587"/>
<text x="146.3" y="576.6" font-size="5.4" fill="#231f20" textLength="26.2" lengthAdjust="spacingAndGlyphs" style="stroke:none">shControl</text>
<rect x="181.3" y="572" width="4.5" height="5" fill="#9f3444"/>
<text x="188.8" y="576.6" font-size="5.4" fill="#231f20" textLength="51.7" lengthAdjust="spacingAndGlyphs" style="stroke:none">shRUNX1-RUNX1T1</text>
<line x1="255.5" y1="574.3" x2="358.8" y2="574.3" stroke="#4a4a4a" stroke-width="1.4"/>
<text x="262.5" y="438.2" font-size="9.4" fill="#231f20" textLength="32.5" lengthAdjust="spacingAndGlyphs">SKNO-1</text>
<line x1="200" y1="442.7" x2="358.8" y2="442.7" stroke="#4a4a4a" stroke-width="1.4"/>
<text transform="translate(207.9 494.25) rotate(-90)" font-size="10" fill="#231f20" text-anchor="middle" textLength="111.7" lengthAdjust="spacingAndGlyphs">Relative mRNA expression</text>
<text transform="translate(220.4 494.6) rotate(-90)" font-size="9.8" fill="#231f20" text-anchor="middle">(X10<tspan font-size="6.6" dy="-4.2">-2</tspan><tspan dy="4.2">)</tspan></text>
<line x1="239.5" y1="446.1" x2="239.5" y2="542.3" stroke="#000000" stroke-width="1"/>
<line x1="236.3" y1="460.5" x2="239.5" y2="460.5" stroke="#000000" stroke-width="1"/>
<text x="232.5" y="462.59" font-size="7.2" fill="#231f20" text-anchor="end">4</text>
<line x1="236.3" y1="480.5" x2="239.5" y2="480.5" stroke="#000000" stroke-width="1"/>
<text x="232.5" y="483.09" font-size="7.2" fill="#231f20" text-anchor="end">3</text>
<line x1="236.3" y1="501.5" x2="239.5" y2="501.5" stroke="#000000" stroke-width="1"/>
<text x="232.5" y="503.89" font-size="7.2" fill="#231f20" text-anchor="end">2</text>
<line x1="236.3" y1="521.5" x2="239.5" y2="521.5" stroke="#000000" stroke-width="1"/>
<text x="232.5" y="524.39" font-size="7.2" fill="#231f20" text-anchor="end">1</text>
<line x1="236.3" y1="542.5" x2="239.5" y2="542.5" stroke="#000000" stroke-width="1"/>
<text x="232.5" y="544.89" font-size="7.2" fill="#231f20" text-anchor="end">0</text>
<line x1="239.5" y1="542.5" x2="260" y2="542.5" stroke="#000000" stroke-width="1"/>
<rect x="243.45" y="464.3" width="5.2" height="78" fill="#4d6587" stroke="#3f5676" stroke-width="0.45"/>
<line x1="246.5" y1="464.3" x2="246.5" y2="462" stroke="#111" stroke-width="1"/>
<line x1="244.45" y1="462.5" x2="247.65" y2="462.5" stroke="#111" stroke-width="1"/>
<rect x="250.65" y="516.5" width="4.7" height="25.8" fill="#9f3444" stroke="#8c2536" stroke-width="0.45"/>
<line x1="252.5" y1="516.5" x2="252.5" y2="515.3" stroke="#111" stroke-width="1"/>
<line x1="251.4" y1="515.5" x2="254.6" y2="515.5" stroke="#111" stroke-width="1"/>
<circle cx="250.25" cy="513" r="0.82" fill="#2e2e2e"/>
<circle cx="253" cy="513" r="0.82" fill="#2e2e2e"/>
<circle cx="255.75" cy="513" r="0.82" fill="#2e2e2e"/>
<text x="237" y="552.3" font-size="6.6" fill="#231f20" textLength="25" lengthAdjust="spacingAndGlyphs">RUNX1-</text>
<text x="234.5" y="561.5" font-size="6.6" fill="#231f20" textLength="28.8" lengthAdjust="spacingAndGlyphs">RUNX1T1</text>
<line x1="288.5" y1="450" x2="288.5" y2="542.3" stroke="#000000" stroke-width="1"/>
<line x1="285.1" y1="460.5" x2="288.3" y2="460.5" stroke="#000000" stroke-width="1"/>
<text x="281.3" y="462.59" font-size="7.2" fill="#231f20" text-anchor="end">1.6</text>
<line x1="285.1" y1="480.5" x2="288.3" y2="480.5" stroke="#000000" stroke-width="1"/>
<text x="281.3" y="483.39" font-size="7.2" fill="#231f20" text-anchor="end">1.2</text>
<line x1="285.1" y1="501.5" x2="288.3" y2="501.5" stroke="#000000" stroke-width="1"/>
<text x="281.3" y="503.89" font-size="7.2" fill="#231f20" text-anchor="end">0.8</text>
<line x1="285.1" y1="521.5" x2="288.3" y2="521.5" stroke="#000000" stroke-width="1"/>
<text x="281.3" y="524.39" font-size="7.2" fill="#231f20" text-anchor="end">0.4</text>
<line x1="285.1" y1="542.5" x2="288.3" y2="542.5" stroke="#000000" stroke-width="1"/>
<text x="281.3" y="544.89" font-size="7.2" fill="#231f20" text-anchor="end">0</text>
<line x1="288.3" y1="542.5" x2="307.5" y2="542.5" stroke="#000000" stroke-width="1"/>
<rect x="292.65" y="500.5" width="5.2" height="41.8" fill="#4d6587" stroke="#3f5676" stroke-width="0.45"/>
<line x1="295.5" y1="500.5" x2="295.5" y2="500" stroke="#111" stroke-width="1"/>
<line x1="293.65" y1="500.5" x2="296.85" y2="500.5" stroke="#111" stroke-width="1"/>
<rect x="300.15" y="463" width="5.2" height="79.3" fill="#9f3444" stroke="#8c2536" stroke-width="0.45"/>
<line x1="302.5" y1="463" x2="302.5" y2="462" stroke="#111" stroke-width="1"/>
<line x1="301.15" y1="462.5" x2="304.35" y2="462.5" stroke="#111" stroke-width="1"/>
<circle cx="300" cy="459.5" r="0.82" fill="#2e2e2e"/>
<circle cx="302.75" cy="459.5" r="0.82" fill="#2e2e2e"/>
<circle cx="305.5" cy="459.5" r="0.82" fill="#2e2e2e"/>
<text x="283.8" y="552.5" font-size="6.6" fill="#231f20" textLength="27.5" lengthAdjust="spacingAndGlyphs">CBFA2T3</text>
<line x1="337.5" y1="446.1" x2="337.5" y2="542.3" stroke="#000000" stroke-width="1"/>
<line x1="334.3" y1="450.5" x2="337.5" y2="450.5" stroke="#000000" stroke-width="1"/>
<line x1="334.3" y1="468.5" x2="337.5" y2="468.5" stroke="#000000" stroke-width="1"/>
<text x="330.5" y="470.89" font-size="7.2" fill="#231f20" text-anchor="end">0.2</text>
<line x1="334.3" y1="486.5" x2="337.5" y2="486.5" stroke="#000000" stroke-width="1"/>
<line x1="334.3" y1="504.5" x2="337.5" y2="504.5" stroke="#000000" stroke-width="1"/>
<text x="330.5" y="507.59" font-size="7.2" fill="#231f20" text-anchor="end">0.1</text>
<line x1="334.3" y1="523.5" x2="337.5" y2="523.5" stroke="#000000" stroke-width="1"/>
<line x1="334.3" y1="542.5" x2="337.5" y2="542.5" stroke="#000000" stroke-width="1"/>
<text x="330.5" y="544.89" font-size="7.2" fill="#231f20" text-anchor="end">0</text>
<line x1="337.5" y1="542.5" x2="358" y2="542.5" stroke="#000000" stroke-width="1"/>
<rect x="341.45" y="466.3" width="5.4" height="76" fill="#4d6587" stroke="#3f5676" stroke-width="0.45"/>
<line x1="344.5" y1="466.3" x2="344.5" y2="465.5" stroke="#111" stroke-width="1"/>
<line x1="342.55" y1="465.5" x2="345.75" y2="465.5" stroke="#111" stroke-width="1"/>
<rect x="348.95" y="523.3" width="5.2" height="19" fill="#9f3444" stroke="#8c2536" stroke-width="0.45"/>
<line x1="351.5" y1="523.3" x2="351.5" y2="522.8" stroke="#111" stroke-width="1"/>
<line x1="349.95" y1="522.5" x2="353.15" y2="522.5" stroke="#111" stroke-width="1"/>
<circle cx="348.8" cy="519.5" r="0.82" fill="#2e2e2e"/>
<circle cx="351.55" cy="519.5" r="0.82" fill="#2e2e2e"/>
<circle cx="354.3" cy="519.5" r="0.82" fill="#2e2e2e"/>
<text x="341.3" y="552.5" font-size="6.6" fill="#231f20" textLength="11.2" lengthAdjust="spacingAndGlyphs">p21</text>
<text x="91.3" y="597.5" font-size="9.4" fill="#231f20" textLength="22.5" lengthAdjust="spacingAndGlyphs">U937</text>
<line x1="27.5" y1="602.6" x2="177.5" y2="602.6" stroke="#4a4a4a" stroke-width="1.4"/>
<text transform="translate(34.4 655.05) rotate(-90)" font-size="10" fill="#231f20" text-anchor="middle" textLength="112.5" lengthAdjust="spacingAndGlyphs">Relative mRNA expression</text>
<text transform="translate(46.8 655) rotate(-90)" font-size="9.8" fill="#231f20" text-anchor="middle">(X10<tspan font-size="6.6" dy="-4.2">-2</tspan><tspan dy="4.2">)</tspan></text>
<line x1="70.5" y1="607.5" x2="70.5" y2="702.5" stroke="#000000" stroke-width="1"/>
<line x1="66.8" y1="610.5" x2="70" y2="610.5" stroke="#000000" stroke-width="1"/>
<text x="63.8" y="613.39" font-size="7.2" fill="#231f20" text-anchor="end">20</text>
<line x1="66.8" y1="656.5" x2="70" y2="656.5" stroke="#000000" stroke-width="1"/>
<text x="63.8" y="659.39" font-size="7.2" fill="#231f20" text-anchor="end">10</text>
<line x1="66.8" y1="702.5" x2="70" y2="702.5" stroke="#000000" stroke-width="1"/>
<text x="63.8" y="705.09" font-size="7.2" fill="#231f20" text-anchor="end">0</text>
<line x1="70" y1="702.5" x2="88" y2="702.5" stroke="#000000" stroke-width="1"/>
<rect x="79.65" y="650.5" width="5.2" height="52" fill="#9f3444" stroke="#8c2536" stroke-width="0.45"/>
<line x1="82.5" y1="650.5" x2="82.5" y2="649.5" stroke="#111" stroke-width="1"/>
<line x1="80.65" y1="649.5" x2="83.85" y2="649.5" stroke="#111" stroke-width="1"/>
<circle cx="79.5" cy="646.3" r="0.82" fill="#2e2e2e"/>
<circle cx="82.25" cy="646.3" r="0.82" fill="#2e2e2e"/>
<circle cx="85" cy="646.3" r="0.82" fill="#2e2e2e"/>
<text x="67" y="712" font-size="6.6" fill="#231f20" textLength="25" lengthAdjust="spacingAndGlyphs">RUNX1-</text>
<text x="63.8" y="721" font-size="6.6" fill="#231f20" textLength="29.5" lengthAdjust="spacingAndGlyphs">RUNX1T1</text>
<line x1="118.5" y1="607.5" x2="118.5" y2="702.5" stroke="#000000" stroke-width="1"/>
<line x1="115.6" y1="611.5" x2="118.8" y2="611.5" stroke="#000000" stroke-width="1"/>
<text x="111.3" y="613.89" font-size="7.2" fill="#231f20" text-anchor="end">0.3</text>
<line x1="115.6" y1="641.5" x2="118.8" y2="641.5" stroke="#000000" stroke-width="1"/>
<text x="111.3" y="644.39" font-size="7.2" fill="#231f20" text-anchor="end">0.2</text>
<line x1="115.6" y1="672.5" x2="118.8" y2="672.5" stroke="#000000" stroke-width="1"/>
<text x="111.3" y="674.59" font-size="7.2" fill="#231f20" text-anchor="end">0.1</text>
<line x1="115.6" y1="702.5" x2="118.8" y2="702.5" stroke="#000000" stroke-width="1"/>
<text x="111.3" y="705.09" font-size="7.2" fill="#231f20" text-anchor="end">0</text>
<line x1="118.8" y1="702.5" x2="137.5" y2="702.5" stroke="#000000" stroke-width="1"/>
<rect x="120.95" y="618.3" width="5.2" height="84.2" fill="#4d6587" stroke="#3f5676" stroke-width="0.45"/>
<line x1="123.5" y1="618.3" x2="123.5" y2="615.8" stroke="#111" stroke-width="1"/>
<line x1="121.95" y1="615.5" x2="125.15" y2="615.5" stroke="#111" stroke-width="1"/>
<rect x="128.15" y="666.8" width="5.5" height="35.7" fill="#9f3444" stroke="#8c2536" stroke-width="0.45"/>
<line x1="130.5" y1="666.8" x2="130.5" y2="666" stroke="#111" stroke-width="1"/>
<line x1="129.3" y1="666.5" x2="132.5" y2="666.5" stroke="#111" stroke-width="1"/>
<circle cx="128.15" cy="663" r="0.82" fill="#2e2e2e"/>
<circle cx="130.9" cy="663" r="0.82" fill="#2e2e2e"/>
<circle cx="133.65" cy="663" r="0.82" fill="#2e2e2e"/>
<text x="113" y="712" font-size="6.6" fill="#231f20" textLength="28.3" lengthAdjust="spacingAndGlyphs">CBFA2T3</text>
<line x1="159.5" y1="607.5" x2="159.5" y2="702.5" stroke="#000000" stroke-width="1"/>
<line x1="156.1" y1="611.5" x2="159.3" y2="611.5" stroke="#000000" stroke-width="1"/>
<text x="152.5" y="613.89" font-size="7.2" fill="#231f20" text-anchor="end">6</text>
<line x1="156.1" y1="626.5" x2="159.3" y2="626.5" stroke="#000000" stroke-width="1"/>
<text x="152.5" y="628.89" font-size="7.2" fill="#231f20" text-anchor="end">5</text>
<line x1="156.1" y1="641.5" x2="159.3" y2="641.5" stroke="#000000" stroke-width="1"/>
<text x="152.5" y="644.39" font-size="7.2" fill="#231f20" text-anchor="end">4</text>
<line x1="156.1" y1="656.5" x2="159.3" y2="656.5" stroke="#000000" stroke-width="1"/>
<text x="152.5" y="659.59" font-size="7.2" fill="#231f20" text-anchor="end">3</text>
<line x1="156.1" y1="672.5" x2="159.3" y2="672.5" stroke="#000000" stroke-width="1"/>
<text x="152.5" y="674.59" font-size="7.2" fill="#231f20" text-anchor="end">2</text>
<line x1="156.1" y1="687.5" x2="159.3" y2="687.5" stroke="#000000" stroke-width="1"/>
<text x="152.5" y="690.09" font-size="7.2" fill="#231f20" text-anchor="end">1</text>
<line x1="156.1" y1="702.5" x2="159.3" y2="702.5" stroke="#000000" stroke-width="1"/>
<text x="152.5" y="705.09" font-size="7.2" fill="#231f20" text-anchor="end">0</text>
<line x1="159.3" y1="702.5" x2="177.5" y2="702.5" stroke="#000000" stroke-width="1"/>
<rect x="161.45" y="694.3" width="5.4" height="8.2" fill="#4d6587" stroke="#3f5676" stroke-width="0.45"/>
<line x1="164.5" y1="694.3" x2="164.5" y2="693.8" stroke="#111" stroke-width="1"/>
<line x1="162.55" y1="693.5" x2="165.75" y2="693.5" stroke="#111" stroke-width="1"/>
<rect x="168.95" y="622.5" width="5.4" height="80" fill="#9f3444" stroke="#8c2536" stroke-width="0.45"/>
<line x1="171.5" y1="622.5" x2="171.5" y2="621.8" stroke="#111" stroke-width="1"/>
<line x1="170.05" y1="621.5" x2="173.25" y2="621.5" stroke="#111" stroke-width="1"/>
<circle cx="168.9" cy="618.8" r="0.82" fill="#2e2e2e"/>
<circle cx="171.65" cy="618.8" r="0.82" fill="#2e2e2e"/>
<circle cx="174.4" cy="618.8" r="0.82" fill="#2e2e2e"/>
<text x="162" y="712" font-size="6.6" fill="#231f20" textLength="11.8" lengthAdjust="spacingAndGlyphs">p21</text>
<line x1="26.3" y1="734.8" x2="214.5" y2="734.8" stroke="#4a4a4a" stroke-width="1.4"/>
<rect x="222" y="732.5" width="4.3" height="5" fill="#4d6587"/>
<text x="230" y="737" font-size="5.4" fill="#231f20" textLength="17" lengthAdjust="spacingAndGlyphs" style="stroke:none">vector</text>
<rect x="254.5" y="732.5" width="5" height="5" fill="#9f3444"/>
<text x="262.5" y="737" font-size="5.4" fill="#231f20" textLength="46.3" lengthAdjust="spacingAndGlyphs" style="stroke:none">RUNX1-RUNX1T1</text>
<line x1="322.5" y1="734.8" x2="511.5" y2="734.8" stroke="#4a4a4a" stroke-width="1.4"/>
<text x="235.8" y="597.5" font-size="9.4" fill="#231f20" textLength="54.7" lengthAdjust="spacingAndGlyphs">CD34+ HSPC</text>
<line x1="191" y1="602.6" x2="335" y2="602.6" stroke="#4a4a4a" stroke-width="1.4"/>
<text transform="translate(195.9 655.05) rotate(-90)" font-size="10" fill="#231f20" text-anchor="middle" textLength="112.5" lengthAdjust="spacingAndGlyphs">Relative mRNA expression</text>
<text transform="translate(210.4 655) rotate(-90)" font-size="9.8" fill="#231f20" text-anchor="middle">(X10<tspan font-size="6.6" dy="-4.2">-2</tspan><tspan dy="4.2">)</tspan></text>
<line x1="228.5" y1="607.5" x2="228.5" y2="702.5" stroke="#000000" stroke-width="1"/>
<line x1="225.1" y1="610.5" x2="228.3" y2="610.5" stroke="#000000" stroke-width="1"/>
<text x="222" y="613.39" font-size="7.2" fill="#231f20" text-anchor="end">4</text>
<line x1="225.1" y1="656.5" x2="228.3" y2="656.5" stroke="#000000" stroke-width="1"/>
<text x="222" y="659.39" font-size="7.2" fill="#231f20" text-anchor="end">2</text>
<line x1="225.1" y1="702.5" x2="228.3" y2="702.5" stroke="#000000" stroke-width="1"/>
<text x="222" y="705.09" font-size="7.2" fill="#231f20" text-anchor="end">0</text>
<line x1="228.3" y1="702.5" x2="245" y2="702.5" stroke="#000000" stroke-width="1"/>
<rect x="230.15" y="702" width="4.7" height="0.5" fill="#4d6587" stroke="#3f5676" stroke-width="0.45"/>
<rect x="236.45" y="641.8" width="5.2" height="60.7" fill="#9f3444" stroke="#8c2536" stroke-width="0.45"/>
<line x1="239.5" y1="641.8" x2="239.5" y2="641" stroke="#111" stroke-width="1"/>
<line x1="237.45" y1="640.5" x2="240.65" y2="640.5" stroke="#111" stroke-width="1"/>
<circle cx="236.3" cy="638.3" r="0.82" fill="#2e2e2e"/>
<circle cx="239.05" cy="638.3" r="0.82" fill="#2e2e2e"/>
<circle cx="241.8" cy="638.3" r="0.82" fill="#2e2e2e"/>
<text x="225" y="712" font-size="6.6" fill="#231f20" textLength="24.3" lengthAdjust="spacingAndGlyphs">RUNX1-</text>
<text x="222" y="721" font-size="6.6" fill="#231f20" textLength="29.3" lengthAdjust="spacingAndGlyphs">RUNX1T1</text>
<line x1="269.5" y1="607.5" x2="269.5" y2="702.5" stroke="#000000" stroke-width="1"/>
<line x1="266.1" y1="610.5" x2="269.3" y2="610.5" stroke="#000000" stroke-width="1"/>
<text x="262.5" y="613.39" font-size="7.2" fill="#231f20" text-anchor="end">7</text>
<line x1="266.1" y1="624.5" x2="269.3" y2="624.5" stroke="#000000" stroke-width="1"/>
<text x="262.5" y="626.89" font-size="7.2" fill="#231f20" text-anchor="end">6</text>
<line x1="266.1" y1="636.5" x2="269.3" y2="636.5" stroke="#000000" stroke-width="1"/>
<text x="262.5" y="639.59" font-size="7.2" fill="#231f20" text-anchor="end">5</text>
<line x1="266.1" y1="650.5" x2="269.3" y2="650.5" stroke="#000000" stroke-width="1"/>
<text x="262.5" y="652.59" font-size="7.2" fill="#231f20" text-anchor="end">4</text>
<line x1="266.1" y1="663.5" x2="269.3" y2="663.5" stroke="#000000" stroke-width="1"/>
<text x="262.5" y="665.89" font-size="7.2" fill="#231f20" text-anchor="end">3</text>
<line x1="266.1" y1="676.5" x2="269.3" y2="676.5" stroke="#000000" stroke-width="1"/>
<text x="262.5" y="678.89" font-size="7.2" fill="#231f20" text-anchor="end">2</text>
<line x1="266.1" y1="689.5" x2="269.3" y2="689.5" stroke="#000000" stroke-width="1"/>
<text x="262.5" y="691.89" font-size="7.2" fill="#231f20" text-anchor="end">1</text>
<line x1="266.1" y1="702.5" x2="269.3" y2="702.5" stroke="#000000" stroke-width="1"/>
<text x="262.5" y="705.09" font-size="7.2" fill="#231f20" text-anchor="end">0</text>
<line x1="269.3" y1="702.5" x2="287.5" y2="702.5" stroke="#000000" stroke-width="1"/>
<rect x="272.65" y="624.5" width="5.2" height="78" fill="#4d6587" stroke="#3f5676" stroke-width="0.45"/>
<line x1="275.5" y1="624.5" x2="275.5" y2="622" stroke="#111" stroke-width="1"/>
<line x1="273.65" y1="622.5" x2="276.85" y2="622.5" stroke="#111" stroke-width="1"/>
<rect x="279.65" y="696.8" width="5.2" height="5.7" fill="#9f3444" stroke="#8c2536" stroke-width="0.45"/>
<line x1="282.5" y1="696.8" x2="282.5" y2="696" stroke="#111" stroke-width="1"/>
<line x1="280.65" y1="696.5" x2="283.85" y2="696.5" stroke="#111" stroke-width="1"/>
<circle cx="279.5" cy="693.3" r="0.82" fill="#2e2e2e"/>
<circle cx="282.25" cy="693.3" r="0.82" fill="#2e2e2e"/>
<circle cx="285" cy="693.3" r="0.82" fill="#2e2e2e"/>
<text x="263.8" y="712" font-size="6.6" fill="#231f20" textLength="28.2" lengthAdjust="spacingAndGlyphs">CBFA2T3</text>
<line x1="316.5" y1="607.5" x2="316.5" y2="702.5" stroke="#000000" stroke-width="1"/>
<line x1="313.6" y1="611.5" x2="316.8" y2="611.5" stroke="#000000" stroke-width="1"/>
<line x1="313.6" y1="624.5" x2="316.8" y2="624.5" stroke="#000000" stroke-width="1"/>
<text x="310" y="627.09" font-size="7.2" fill="#231f20" text-anchor="end">0.3</text>
<line x1="313.6" y1="650.5" x2="316.8" y2="650.5" stroke="#000000" stroke-width="1"/>
<text x="310" y="653.09" font-size="7.2" fill="#231f20" text-anchor="end">0.2</text>
<line x1="313.6" y1="676.5" x2="316.8" y2="676.5" stroke="#000000" stroke-width="1"/>
<text x="310" y="678.89" font-size="7.2" fill="#231f20" text-anchor="end">0.1</text>
<line x1="313.6" y1="702.5" x2="316.8" y2="702.5" stroke="#000000" stroke-width="1"/>
<text x="310" y="705.09" font-size="7.2" fill="#231f20" text-anchor="end">0</text>
<line x1="316.8" y1="702.5" x2="335" y2="702.5" stroke="#000000" stroke-width="1"/>
<rect x="319.45" y="669.3" width="5.4" height="33.2" fill="#4d6587" stroke="#3f5676" stroke-width="0.45"/>
<line x1="322.5" y1="669.3" x2="322.5" y2="668.8" stroke="#111" stroke-width="1"/>
<line x1="320.55" y1="668.5" x2="323.75" y2="668.5" stroke="#111" stroke-width="1"/>
<rect x="326.95" y="621.3" width="5.4" height="81.2" fill="#9f3444" stroke="#8c2536" stroke-width="0.45"/>
<line x1="329.5" y1="621.3" x2="329.5" y2="620.5" stroke="#111" stroke-width="1"/>
<line x1="328.05" y1="620.5" x2="331.25" y2="620.5" stroke="#111" stroke-width="1"/>
<circle cx="326.9" cy="617.5" r="0.82" fill="#2e2e2e"/>
<circle cx="329.65" cy="617.5" r="0.82" fill="#2e2e2e"/>
<circle cx="332.4" cy="617.5" r="0.82" fill="#2e2e2e"/>
<text x="320" y="712" font-size="6.6" fill="#231f20" textLength="11.8" lengthAdjust="spacingAndGlyphs">p21</text>
<text x="421.3" y="597.5" font-size="9.4" fill="#231f20" textLength="16.2" lengthAdjust="spacingAndGlyphs">HEL</text>
<line x1="347.5" y1="602.6" x2="512" y2="602.6" stroke="#4a4a4a" stroke-width="1.4"/>
<text transform="translate(356.3 655.05) rotate(-90)" font-size="10" fill="#231f20" text-anchor="middle" textLength="112.5" lengthAdjust="spacingAndGlyphs">Relative mRNA expression</text>
<text transform="translate(368.6 655) rotate(-90)" font-size="9.8" fill="#231f20" text-anchor="middle">(X10<tspan font-size="6.6" dy="-4.2">-2</tspan><tspan dy="4.2">)</tspan></text>
<line x1="391.5" y1="607.5" x2="391.5" y2="702.5" stroke="#000000" stroke-width="1"/>
<line x1="388.1" y1="611.5" x2="391.3" y2="611.5" stroke="#000000" stroke-width="1"/>
<text x="384.5" y="613.89" font-size="7.2" fill="#231f20" text-anchor="end">30</text>
<line x1="388.1" y1="641.5" x2="391.3" y2="641.5" stroke="#000000" stroke-width="1"/>
<text x="384.5" y="644.39" font-size="7.2" fill="#231f20" text-anchor="end">20</text>
<line x1="388.1" y1="672.5" x2="391.3" y2="672.5" stroke="#000000" stroke-width="1"/>
<text x="384.5" y="674.59" font-size="7.2" fill="#231f20" text-anchor="end">10</text>
<line x1="388.1" y1="702.5" x2="391.3" y2="702.5" stroke="#000000" stroke-width="1"/>
<text x="384.5" y="705.09" font-size="7.2" fill="#231f20" text-anchor="end">0</text>
<line x1="391.3" y1="702.5" x2="409.5" y2="702.5" stroke="#000000" stroke-width="1"/>
<rect x="400.15" y="628.8" width="6" height="73.7" fill="#9f3444" stroke="#8c2536" stroke-width="0.45"/>
<line x1="403.5" y1="628.8" x2="403.5" y2="627.5" stroke="#111" stroke-width="1"/>
<line x1="401.55" y1="627.5" x2="404.75" y2="627.5" stroke="#111" stroke-width="1"/>
<circle cx="400.4" cy="625" r="0.82" fill="#2e2e2e"/>
<circle cx="403.15" cy="625" r="0.82" fill="#2e2e2e"/>
<circle cx="405.9" cy="625" r="0.82" fill="#2e2e2e"/>
<text x="387.5" y="712" font-size="6.6" fill="#231f20" textLength="24.5" lengthAdjust="spacingAndGlyphs">RUNX1-</text>
<text x="385" y="721" font-size="6.6" fill="#231f20" textLength="29.5" lengthAdjust="spacingAndGlyphs">RUNX1T1</text>
<line x1="438.5" y1="607.5" x2="438.5" y2="702.5" stroke="#000000" stroke-width="1"/>
<line x1="435.6" y1="611.5" x2="438.8" y2="611.5" stroke="#000000" stroke-width="1"/>
<text x="431.3" y="613.89" font-size="7.2" fill="#231f20" text-anchor="end">2</text>
<line x1="435.6" y1="629.5" x2="438.8" y2="629.5" stroke="#000000" stroke-width="1"/>
<text x="431.3" y="632.09" font-size="7.2" fill="#231f20" text-anchor="end">1.6</text>
<line x1="435.6" y1="647.5" x2="438.8" y2="647.5" stroke="#000000" stroke-width="1"/>
<text x="431.3" y="650.09" font-size="7.2" fill="#231f20" text-anchor="end">1.2</text>
<line x1="435.6" y1="666.5" x2="438.8" y2="666.5" stroke="#000000" stroke-width="1"/>
<text x="431.3" y="668.89" font-size="7.2" fill="#231f20" text-anchor="end">0.8</text>
<line x1="435.6" y1="684.5" x2="438.8" y2="684.5" stroke="#000000" stroke-width="1"/>
<text x="431.3" y="687.09" font-size="7.2" fill="#231f20" text-anchor="end">0.4</text>
<line x1="435.6" y1="702.5" x2="438.8" y2="702.5" stroke="#000000" stroke-width="1"/>
<text x="431.3" y="705.09" font-size="7.2" fill="#231f20" text-anchor="end">0</text>
<line x1="438.8" y1="702.5" x2="458.8" y2="702.5" stroke="#000000" stroke-width="1"/>
<rect x="441.95" y="624.3" width="5.4" height="78.2" fill="#4d6587" stroke="#3f5676" stroke-width="0.45"/>
<line x1="444.5" y1="624.3" x2="444.5" y2="623.8" stroke="#111" stroke-width="1"/>
<line x1="443.05" y1="623.5" x2="446.25" y2="623.5" stroke="#111" stroke-width="1"/>
<rect x="449.45" y="661.8" width="5.4" height="40.7" fill="#9f3444" stroke="#8c2536" stroke-width="0.45"/>
<line x1="452.5" y1="661.8" x2="452.5" y2="661" stroke="#111" stroke-width="1"/>
<line x1="450.55" y1="660.5" x2="453.75" y2="660.5" stroke="#111" stroke-width="1"/>
<circle cx="449.4" cy="658" r="0.82" fill="#2e2e2e"/>
<circle cx="452.15" cy="658" r="0.82" fill="#2e2e2e"/>
<circle cx="454.9" cy="658" r="0.82" fill="#2e2e2e"/>
<text x="435" y="712" font-size="6.6" fill="#231f20" textLength="27.5" lengthAdjust="spacingAndGlyphs">CBFA2T3</text>
<line x1="491.5" y1="607.5" x2="491.5" y2="702.5" stroke="#000000" stroke-width="1"/>
<line x1="488.1" y1="611.5" x2="491.3" y2="611.5" stroke="#000000" stroke-width="1"/>
<text x="484.5" y="613.89" font-size="7.2" fill="#231f20" text-anchor="end">0.03</text>
<line x1="488.1" y1="641.5" x2="491.3" y2="641.5" stroke="#000000" stroke-width="1"/>
<text x="484.5" y="644.39" font-size="7.2" fill="#231f20" text-anchor="end">0.02</text>
<line x1="488.1" y1="672.5" x2="491.3" y2="672.5" stroke="#000000" stroke-width="1"/>
<text x="484.5" y="674.59" font-size="7.2" fill="#231f20" text-anchor="end">0.01</text>
<line x1="488.1" y1="702.5" x2="491.3" y2="702.5" stroke="#000000" stroke-width="1"/>
<text x="484.5" y="705.09" font-size="7.2" fill="#231f20" text-anchor="end">0</text>
<line x1="491.3" y1="702.5" x2="512" y2="702.5" stroke="#000000" stroke-width="1"/>
<rect x="495.15" y="679.5" width="4.7" height="23" fill="#4d6587" stroke="#3f5676" stroke-width="0.45"/>
<line x1="497.5" y1="679.5" x2="497.5" y2="679" stroke="#111" stroke-width="1"/>
<line x1="495.9" y1="678.5" x2="499.1" y2="678.5" stroke="#111" stroke-width="1"/>
<rect x="502.15" y="627" width="5.7" height="75.5" fill="#9f3444" stroke="#8c2536" stroke-width="0.45"/>
<line x1="504.5" y1="627" x2="504.5" y2="626" stroke="#111" stroke-width="1"/>
<line x1="503.4" y1="626.5" x2="506.6" y2="626.5" stroke="#111" stroke-width="1"/>
<circle cx="502.25" cy="623" r="0.82" fill="#2e2e2e"/>
<circle cx="505" cy="623" r="0.82" fill="#2e2e2e"/>
<circle cx="507.75" cy="623" r="0.82" fill="#2e2e2e"/>
<text x="495" y="712" font-size="6.6" fill="#231f20" textLength="12.5" lengthAdjust="spacingAndGlyphs">p21</text>
</svg>
</body></html>
